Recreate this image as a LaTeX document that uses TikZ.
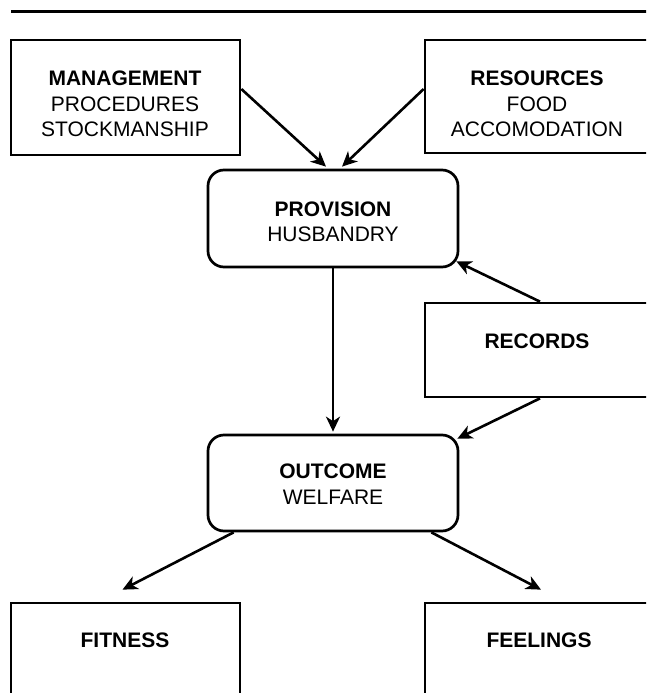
\documentclass[tikz,border=0pt]{standalone}
\usepackage{fontspec}
\setmainfont{Liberation Sans}
\usetikzlibrary{calc,arrows.meta}
\tikzset{
  box/.style={draw, line width=2.7pt, rectangle, inner sep=0pt},
  rbox/.style={box, rounded corners=16pt},
  txt/.style={align=center, inner sep=0pt, font=\fontsize{21}{25.5}\selectfont},
  conn/.style={line width=2.6pt, -{Stealth[length=15pt,width=14pt,inset=4.5pt]}}
}
\begin{document}
\begin{tikzpicture}[x=1pt,y=-1pt]
\useasboundingbox (0,0) rectangle (646,693);
\clip (0,0) rectangle (646,693);
\fill[white] (0,0) rectangle (646,693);
% top rule
\coordinate (ruleL) at (11,11.5);
\coordinate (ruleR) at (650,11.5);
\draw[line width=3pt] (ruleL) -- (ruleR);
% boxes
\node[box, minimum width=229pt, minimum height=115pt] (mgmt) at (125.5,97.5) {};
\node[box, minimum width=228pt, minimum height=113pt] (res) at (539,96.5) {};
\node[rbox, minimum width=250pt, minimum height=97pt] (prov) at (333,218.5) {};
\node[box, minimum width=228pt, minimum height=94pt] (rec) at (539,350) {};
\node[rbox, minimum width=250pt, minimum height=96pt] (out) at (333,483) {};
\node[box, minimum width=229pt, minimum height=130pt] (fit) at (125.5,668) {};
\node[box, minimum width=228pt, minimum height=130pt] (feel) at (539,668) {};
% texts
\node[txt] (mgmtT) at (125,104) {\textbf{MANAGEMENT}\\PROCEDURES\\STOCKMANSHIP};
\node[txt] (resT) at (537,104) {\textbf{RESOURCES}\\FOOD\\ACCOMODATION};
\node[txt] (provT) at (333,222) {\textbf{PROVISION}\\HUSBANDRY};
\node[txt] (recT) at (537,341) {\textbf{RECORDS}};
\node[txt] (outT) at (333,484) {\textbf{OUTCOME}\\WELFARE};
\node[txt] (fitT) at (125,640) {\textbf{FITNESS}};
\node[txt] (feelT) at (539,640) {\textbf{FEELINGS}};
% connectors
\draw[conn] ($(mgmt.east)+(0,-8.5)$) -- ($(prov.north)+(-7,-2)$);
\draw[conn] ($(res.west)+(0,-7.5)$) -- ($(prov.north)+(9,-2)$);
\draw[conn] ($(rec.north)+(1,0)$) -- ($(prov.south east)+(-3,-7)$);
\draw[conn] (prov.south) -- ($(out.north)+(0,-2)$);
\draw[conn] ($(rec.south)+(1,0)$) -- ($(out.north east)+(-2,5)$);
\draw[conn] ($(out.south west)+(27,0)$) -- ($(fit.north)+(-3,-12)$);
\draw[conn] ($(out.south east)+(-28,0)$) -- ($(feel.north)+(2,-12)$);
\end{tikzpicture}
\end{document}
